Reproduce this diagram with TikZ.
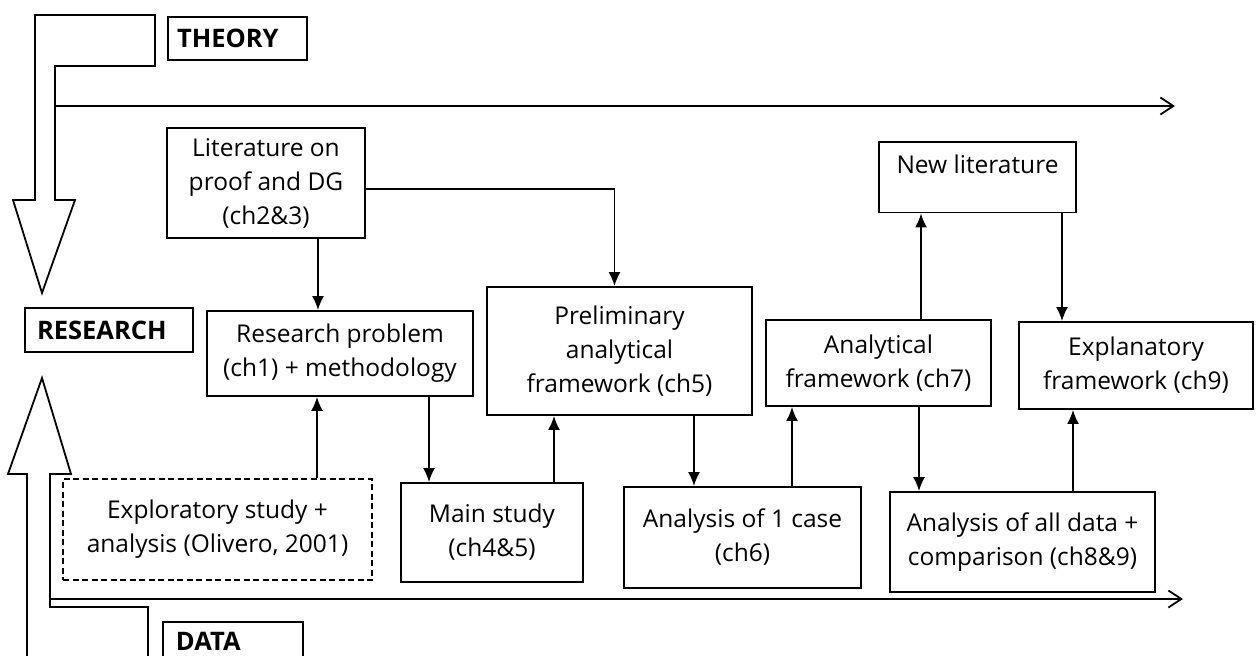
\documentclass[tikz,border=0pt]{standalone}
\usepackage{fontspec}
\setmainfont{Open Sans}
\usepackage{tikz}
\usetikzlibrary{arrows.meta}
\tikzset{>={Latex[length=14pt,width=12pt]}}
\tikzset{box/.style = {draw, line width=1.8pt, align=center, inner sep=0pt,
font=\fontsize{24.5}{34}\selectfont}}
\tikzset{tag/.style = {draw, line width=1.8pt, align=left, inner ysep=0pt,
font=\bfseries\fontsize{25.5}{28}\selectfont}}
\tikzset{wide/.style = {-{Straight Barb[length=13pt,width=17pt]}, line width=1.8pt}}

\begin{document}
\begin{tikzpicture}[x=1pt,y=-1pt,line width=1.8pt]
                \useasboundingbox (0,0) rectangle (1259,656);

                \node[tag, text width=121pt, inner xsep=9pt, minimum height=43pt] (T) at (237.5,38.5) {THEORY};
                \node[tag, text width=144pt, inner xsep=12pt, minimum height=44pt] (R) at (109,330) {RESEARCH};
                \node[tag, text width=114pt, inner xsep=13pt, inner ysep=10pt, text depth=34pt, anchor=north west] (D) at (162,621) {DATA};

                \node[box, minimum width=198pt, minimum height=110pt] (L) at (266,183) {Literature on\\proof and DG\\(ch2\&3)};
                \node[box, minimum width=197pt, inner ysep=13pt, text depth=26pt, anchor=north] (NL) at (977.5,141) {New literature};
                \node[box, minimum width=266pt, minimum height=85pt] (P) at (340,353.5) {Research problem\\(ch1) + methodology};
                \node[box, minimum width=265pt, minimum height=128pt] (PF) at (619.5,351) {Preliminary\\analytical\\framework (ch5)};
                \node[box, minimum width=225pt, minimum height=86pt] (AF) at (878.5,363) {Analytical\\framework (ch7)};
                \node[box, minimum width=234pt, minimum height=87pt] (EF) at (1136,365.5) {Explanatory\\framework (ch9)};
                \node[box, dash pattern=on 6pt off 3.5pt, line width=1.5pt, minimum width=309pt, minimum height=101pt] (ES) at (217.5,529.5) {Exploratory study +\\analysis (Olivero, 2001)};
                \node[box, minimum width=182pt, minimum height=99pt] (MS) at (492,532.5) {Main study\\(ch4\&5)};
                \node[box, minimum width=237pt, minimum height=101pt] (C1) at (742.5,537.5) {Analysis of 1 case\\(ch6)};
                \node[box, minimum width=265pt, minimum height=100pt] (AD) at (1022.5,542) {Analysis of all data +\\comparison (ch8\&9)};

                \coordinate (t0) at (55,106);
                \coordinate (t1) at (1175,106);
                \coordinate (d0) at (50,599);
                \coordinate (d1) at (1183,599);

                \draw (35,15) -- (155,15) -- (155,66) -- (55,66) -- (55,200) -- (75,200)
                      -- (42,293) -- (13,200) -- (35,200) -- cycle;
                \draw (27,670) -- (27,474) -- (8,474) -- (42,378) -- (71,474) -- (50,474)
                      -- (50,607) -- (148,607) -- (148,670);

                \draw[wide] (t0) -- (t1);
                \draw[wide] (d0) -- (d1);

                \draw[->] ([xshift=52pt]L.south) -- ([xshift=52pt]L.south |- P.north);
                \draw[->] ([yshift=-6pt]L.east) -| ([xshift=-5pt]PF.north);
                \draw[->] ([xshift=99.5pt]ES.north) -- ([xshift=99.5pt]ES.north |- P.south);
                \draw[->] ([xshift=89pt]P.south) -- ([xshift=89pt]P.south |- MS.north);
                \draw[->] ([xshift=62pt]MS.north) -- ([xshift=62pt]MS.north |- PF.south);
                \draw[->] ([xshift=74.5pt]PF.south) -- ([xshift=74.5pt]PF.south |- C1.north);
                \draw[->] ([xshift=49.5pt]C1.north) -- ([xshift=49.5pt]C1.north |- AF.south);
                \draw[->] ([xshift=42.5pt]AF.north) -- ([xshift=42.5pt]AF.north |- NL.south);
                \draw[->] ([xshift=84.5pt]NL.south) -- ([xshift=84.5pt]NL.south |- EF.north);
                \draw[->] ([xshift=40.5pt]AF.south) -- ([xshift=40.5pt]AF.south |- AD.north);
                \draw[->] ([xshift=50.5pt]AD.north) -- ([xshift=50.5pt]AD.north |- EF.south);
\end{tikzpicture}
\end{document}
